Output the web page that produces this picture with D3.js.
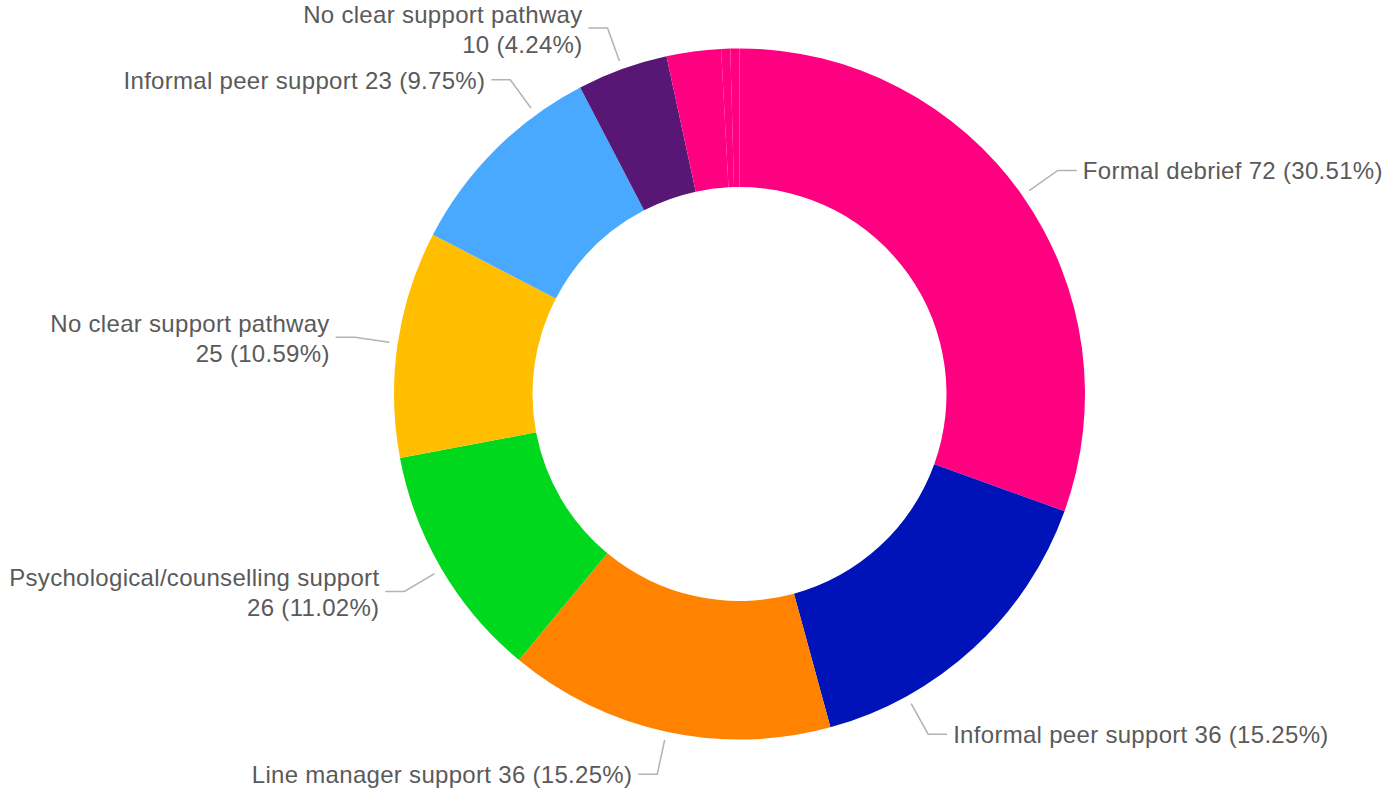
<!DOCTYPE html>
<html>
<head>
<meta charset="utf-8">
<script src="https://cdn.jsdelivr.net/npm/d3@7"></script>
<style>
  html, body { margin: 0; padding: 0; background: #ffffff; }
  svg { display: block; }
</style>
</head>
<body>
<svg id="chart" width="1382" height="794"></svg>
<script>
// ---- data ----
const categories = [
  "Formal debrief",
  "Informal peer support",
  "Line manager support",
  "Psychological/counselling support",
  "No clear support pathway",
  "Informal peer support",
  "No clear support pathway",
  "Other",
  "Other",
  "Other"
];
const values = [72, 36, 36, 26, 25, 23, 10, 6, 1, 1];
const colors = ["#FF0080", "#0013B8", "#FF8200", "#00D81E", "#FFBF00", "#48A9FF", "#581774", "#FF0080", "#FF0080", "#FF0080"];

// ---- label layout (style, not data) ----
const wrapLabel = [false, false, false, true, true, false, true, false, false, false];
const anchorNudgeDeg = [0, 13.7, 0, 0, 0, 8.9, 0, 0, 0, 0];
const minLabelShare = 0.03;

// ---- geometry ----
const cx = 739.5, cy = 394;
const outerR = 345.5, innerR = 207;
const lineR1 = 354, lineR2 = 389, hLen = 19, textGap = 6;
const fontSize = 24, lineGap = 30.5;

const svg = d3.select("#chart");
const g = svg.append("g").attr("transform", `translate(${cx},${cy})`);

const data = categories.map((c, i) => ({ name: c, value: values[i], color: colors[i], i }));
const total = d3.sum(values);

const pie = d3.pie().value(d => d.value).sort(null).startAngle(0).endAngle(2 * Math.PI);
const arc = d3.arc().innerRadius(innerR).outerRadius(outerR);
const arcs = pie(data);

g.selectAll("path.slice")
  .data(arcs)
  .join("path")
  .attr("class", "slice")
  .attr("d", arc)
  .attr("fill", d => d.data.color);

const polar = (r, a) => [r * Math.sin(a), -r * Math.cos(a)];

const labeled = arcs.filter(d => d.data.value / total >= minLabelShare);

const lg = g.append("g");
labeled.forEach(d => {
  const i = d.data.i;
  const a = (d.startAngle + d.endAngle) / 2 + anchorNudgeDeg[i] * Math.PI / 180;
  const right = Math.sin(a) > 0;
  const p1 = polar(lineR1, a);
  const p2 = polar(lineR2, a);
  const p3 = [p2[0] + (right ? hLen : -hLen), p2[1]];
  lg.append("path")
    .attr("d", d3.line()([p1, p2, p3]))
    .attr("fill", "none")
    .attr("stroke", "#b3b3b3")
    .attr("stroke-width", 1.5);

  const pct = (d.data.value / total * 100).toFixed(2) + "%";
  const valText = `${d.data.value} (${pct})`;
  const lines = wrapLabel[i] ? [d.data.name, valText] : [`${d.data.name} ${valText}`];
  const tx = p3[0] + (right ? textGap : -textGap);
  const t = lg.append("text")
    .attr("text-anchor", right ? "start" : "end")
    .attr("font-family", "'Liberation Sans', Arial, Helvetica, sans-serif")
    .attr("font-size", fontSize)
    .attr("letter-spacing", "0.3px")
    .attr("fill", "#5a5a5a");
  const y0 = lines.length === 1 ? p3[1] + 9 : p3[1] - 5.5;
  lines.forEach((ln, k) => {
    t.append("tspan").attr("x", tx).attr("y", y0 + k * lineGap).text(ln);
  });
});
</script>
</body>
</html>
